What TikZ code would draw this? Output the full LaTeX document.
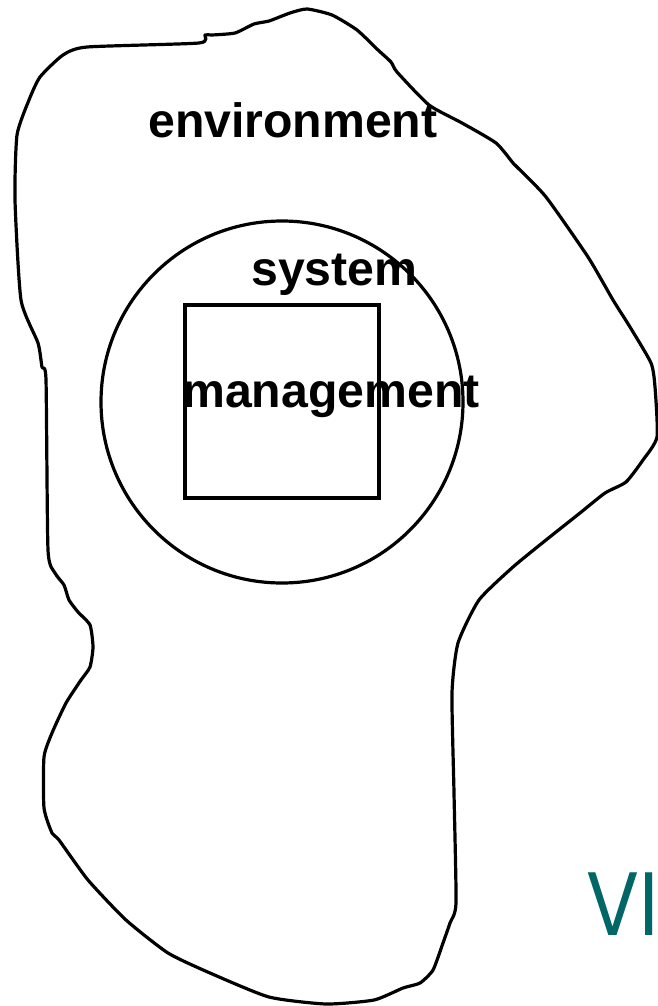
\documentclass[tikz,border=0pt]{standalone}
\usepackage{fontspec}
\setmainfont{Liberation Sans}
\newfontfamily\vifont{Poppins}
\definecolor{vteal}{RGB}{0,102,102}
\begin{document}
\begin{tikzpicture}[x=1pt,y=-1pt,
  outline/.style={line width=3.2pt, line join=round},
  lbl/.style={anchor=base west, inner sep=0pt, font=\fontsize{48.2}{57}\selectfont\bfseries},
  shapebox/.style={draw, line width=3.2pt, inner sep=0pt}]
\useasboundingbox (0,0) rectangle (658,1006);
% environment outline
\draw[outline] plot[smooth cycle, tension=0.35] coordinates {
 (87,47) (199,43) (205,35) (212,35) (235,33) (254,24) (269,21) (290,13) (307,9)
 (332,15) (357,30) (378,50) (391,62) (397,72) (429,105) (462,123) (496,143)
 (513,163) (517,167) (546,197) (588,257) (613,300) (630,327) (651,363) (655,387)
 (657,437) (643,460) (626,482) (605,493) (580,513) (546,540) (513,567) (479,600)
 (458,643) (452,693) (454,793) (456,903) (450,923) (443,943) (433,970) (420,983)
 (403,988) (374,1000) (326,1004) (269,997) (210,973) (168,953) (126,920) (88,880)
 (59,840) (52,833) (44,808) (44,757) (52,733) (66,703) (81,680) (90,667) (93,647)
 (90,625) (78,612) (69,600) (64,585) (55,573) (48,550) (46,380) (42,367) (38,343)
 (21,300) (15,200) (17,135) (29,100) (40,77) (63,55)};
% system circle and management box
\node[shapebox, circle, minimum size=362pt] (system) at (282,402) {};
\node[shapebox, rectangle, minimum width=194pt, minimum height=193pt] (mgmt) at (282,401.5) {};
% labels
\node[lbl] (envlbl) at (148,137) {environment};
\node[lbl] (syslbl) at (251,285) {system};
\node[lbl] (mgmtlbl) at (182,407) {management};
% corner logo text
\node[anchor=base west, inner sep=0pt, xscale=0.87, text=vteal, font=\vifont\fontsize{90}{90}\selectfont] (vi) at (586,935) {VI};
\end{tikzpicture}
\end{document}
